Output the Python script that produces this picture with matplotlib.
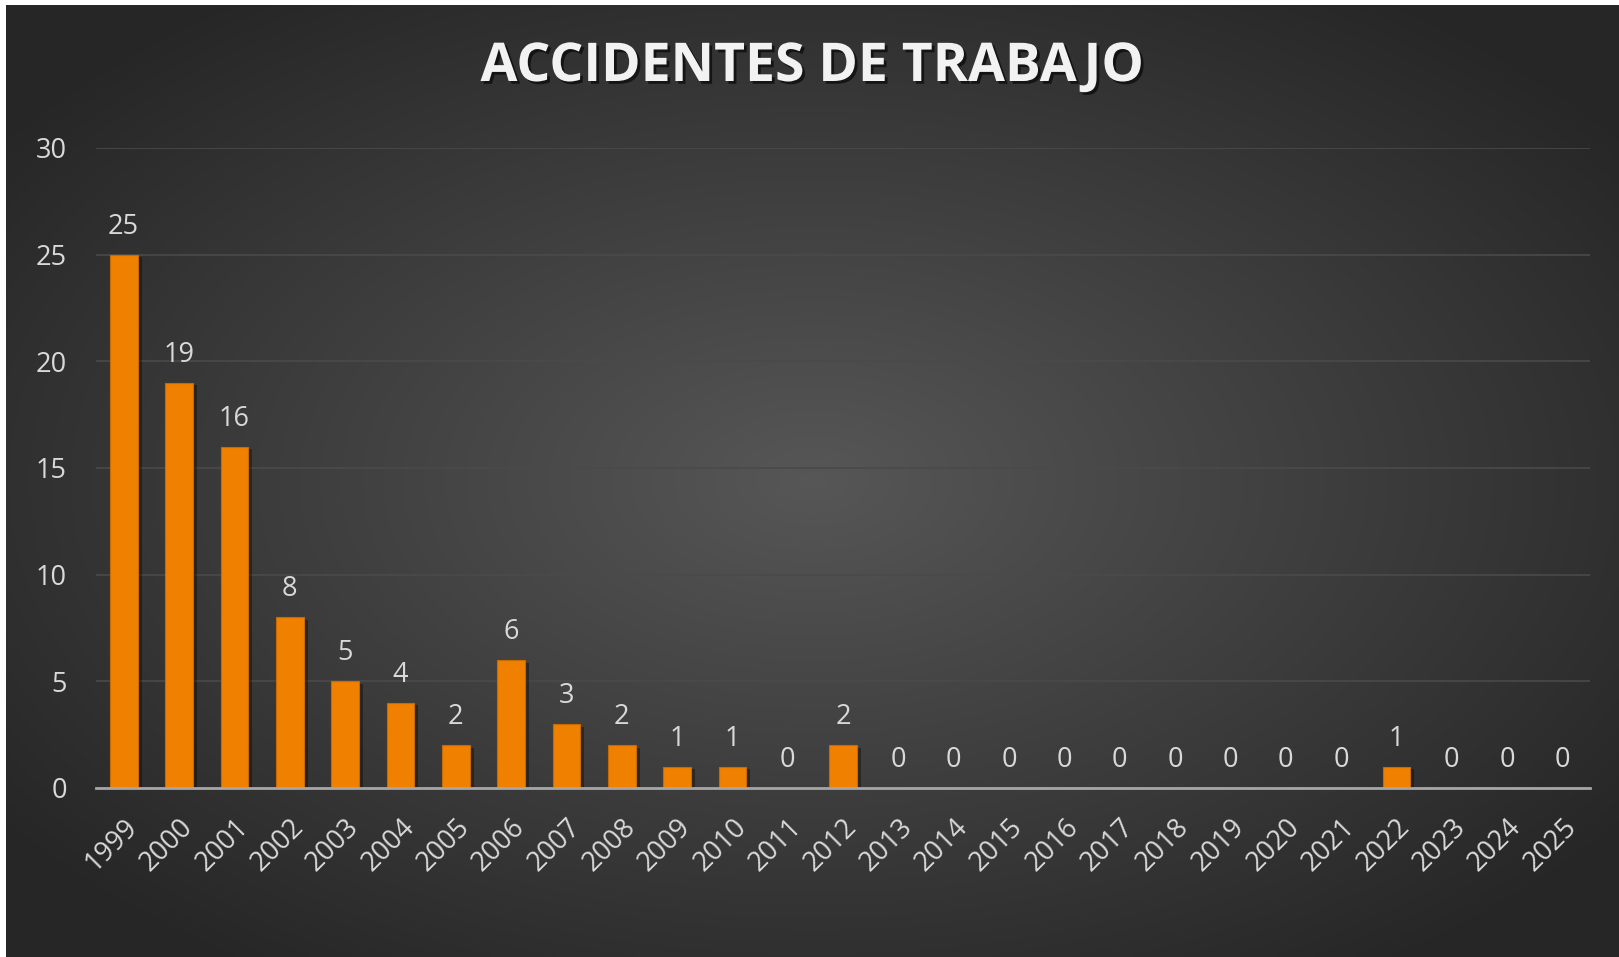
import matplotlib.pyplot as plt
import matplotlib.patheffects as pe
import numpy as np

years = [str(y) for y in range(1999, 2026)]
accidents = [25, 19, 16, 8, 5, 4, 2, 6, 3, 2, 1, 1, 0, 2, 0, 0, 0, 0, 0, 0, 0, 0, 0, 1, 0, 0, 0]
yticks = [0, 5, 10, 15, 20, 25, 30]

W, H = 1619, 957
fig = plt.figure(figsize=(W / 100, H / 100), dpi=100, facecolor='white')
plt.rcParams['font.family'] = ['Open Sans', 'DejaVu Sans']

# radial gradient background, lighter in the middle
bg = fig.add_axes([6 / W, 0, 1 - 6 / W, 1 - 5 / H])
bg.set_axis_off()
gx, gy = np.meshgrid(np.linspace(-1, 1, 400), np.linspace(-1, 1, 240))
r = np.clip(np.sqrt(gx ** 2 + gy ** 2) / 1.25, 0, 1)
shade = 0.34 - 0.19 * r
img = np.dstack([shade, shade, shade])
bg.imshow(img, aspect='auto', extent=[0, 1, 0, 1], interpolation='bilinear')
bg.set_xlim(0, 1)
bg.set_ylim(0, 1)

ax = fig.add_axes([96 / W, 1 - 788 / H, 1494 / W, 640 / H])
ax.patch.set_alpha(0)
x = np.arange(len(years))
bars = ax.bar(x, accidents, width=0.5, color='#f08000', edgecolor='#c86a00', linewidth=0.8, zorder=3)
for b in bars:
    b.set_path_effects([pe.SimplePatchShadow(offset=(3, -2), shadow_rgbFace='black', alpha=0.35), pe.Normal()])

for xi, v in zip(x, accidents):
    ax.text(xi, v + 0.65, str(v), ha='center', va='bottom', fontsize=19.5, color='#d9d9d9', zorder=4)

ax.set_xlim(-0.5, len(years) - 0.5)
ax.set_ylim(0, 30)
ax.set_yticks(yticks)
ax.set_yticklabels([str(t) for t in yticks], fontsize=19.5, color='#d9d9d9')
ax.set_xticks(x)
ax.set_xticklabels(years, fontsize=19.5, color='#d9d9d9', rotation=45, ha='right', va='top',
                   rotation_mode='anchor')
ax.tick_params(axis='both', length=0)
ax.tick_params(axis='y', pad=21)
ax.tick_params(axis='x', pad=18)
ax.grid(axis='y', color='#4a4a4a', linewidth=1.2, zorder=0)
for s in ['top', 'right', 'left']:
    ax.spines[s].set_visible(False)
ax.spines['bottom'].set_color('#a6a6a6')
ax.spines['bottom'].set_linewidth(2)
ax.spines['bottom'].set_zorder(5)

fig.text(812 / W, 1 - 67 / H, 'ACCIDENTES DE TRABAJO', ha='center', va='center', fontsize=38.5,
         fontweight='bold', color='#f2f2f2',
         path_effects=[pe.withSimplePatchShadow(offset=(2, -2), shadow_rgbFace='black', alpha=0.6)])

fig.savefig('out.png', dpi=100, facecolor='white')
